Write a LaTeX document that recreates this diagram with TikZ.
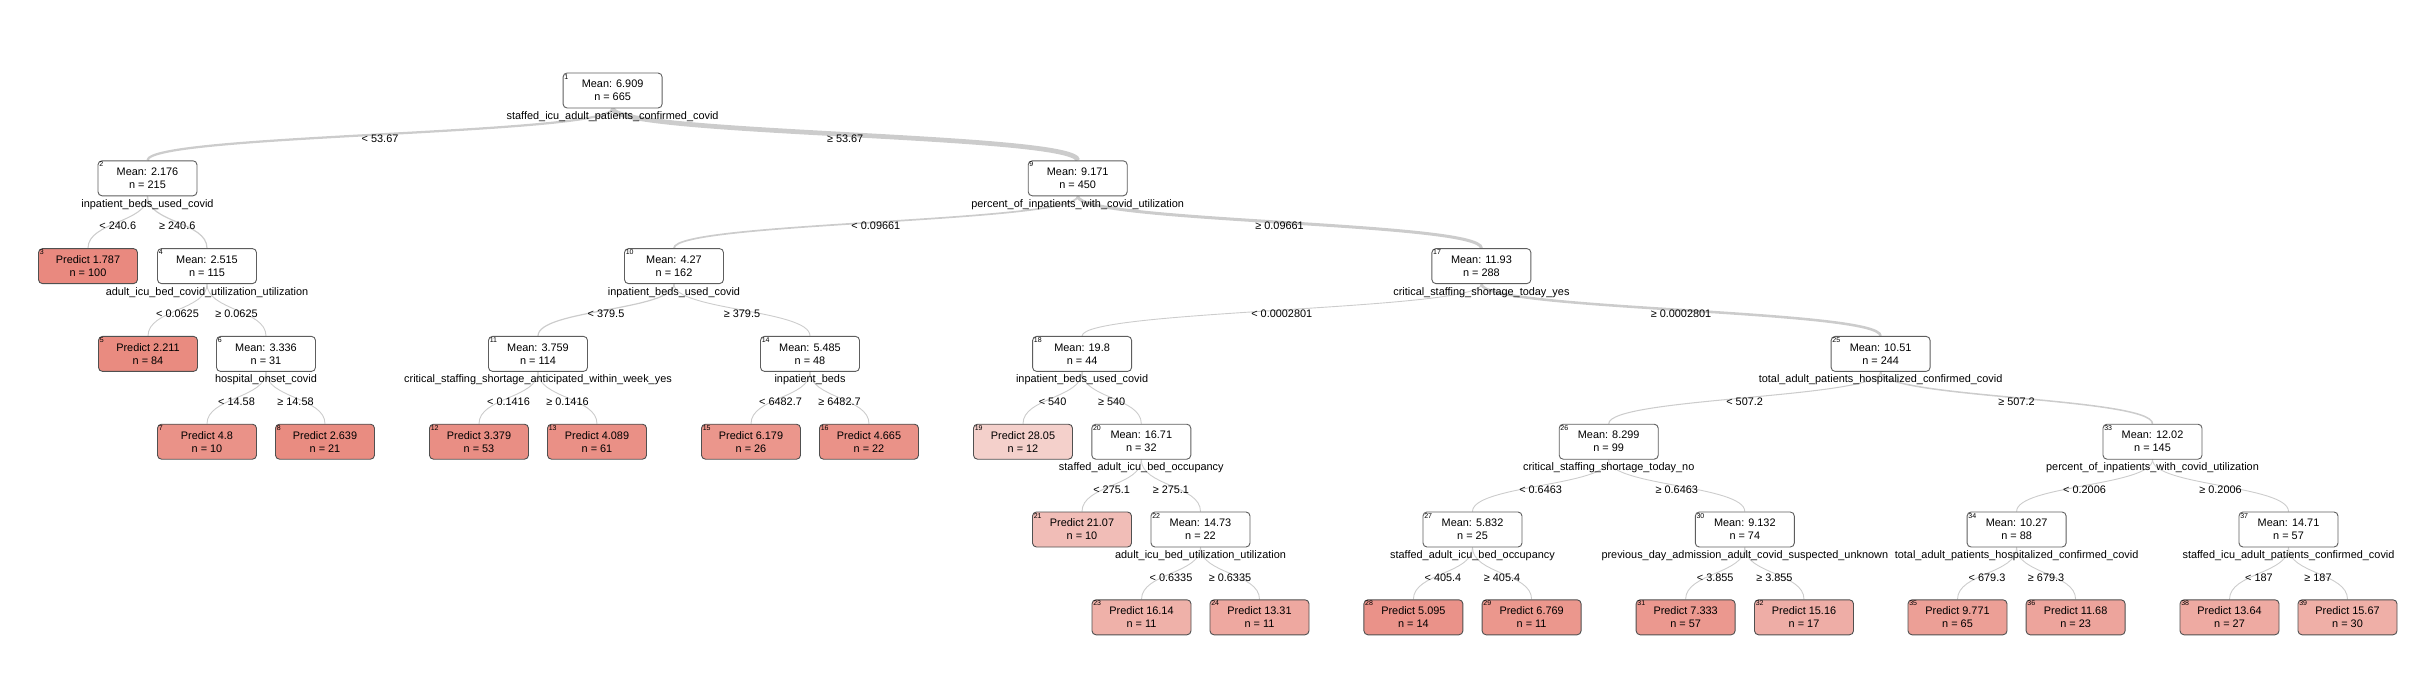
\documentclass[tikz,border=0pt]{standalone}
\usepackage{fontspec}
\setmainfont{Liberation Sans}
\usepackage{xcolor}
\usepackage{tikz}
\usetikzlibrary{positioning, backgrounds}
\definecolor{edgeGray}{HTML}{CCCCCC}
\definecolor{boxGray}{HTML}{5E5E5E}
\definecolor{leafLow}{HTML}{E8857A}
\definecolor{leafHigh}{HTML}{F4D0CB}
\newcommand{\treefont}{\fontsize{10.9}{13}\selectfont}

% inner node: id, x, y, mean, n, split variable
\newcommand{\splitnode}[6]{%
    \node[inbox] (n#1) at (#2,#3) {Mean: #4\\n = #5};
    \node[idlab] (id#1) at ([shift={(1.5,1.5)}]n#1.north west) {#1};
    \node[varlab, below=2pt of n#1] (v#1) {#6};
}
% leaf node: id, x, y, prediction, n, shade
\newcommand{\leafnode}[6]{%
    \node[leafbox, fill=leafHigh!#6!leafLow] (n#1) at (#2,#3) {Predict #4\\n = #5};
    \node[idlab] (id#1) at ([shift={(1.5,1.5)}]n#1.north west) {#1};
}
% link: parent, child, n, split text
\newcommand{\treelink}[4]{%
    \draw[branchline=#3] (n#1.south) .. controls +(0,26.4) and +(0,-26.4) .. (n#2.north)
        node[pos=0.5, cutlab] (c#2) {#4};
}

\begin{document}
\begin{tikzpicture}[x=1pt, y=-1pt,
    inbox/.style={draw=boxGray, fill=white, rounded corners=4pt, line width=0.9pt,
        minimum width=99pt, minimum height=35pt, inner sep=0pt, align=center, font=\treefont},
    leafbox/.style={inbox, draw=boxGray!85!black},
    idlab/.style={anchor=north west, inner sep=0pt, font=\fontsize{7}{8}\selectfont},
    varlab/.style={inner sep=1pt, font=\treefont},
    cutlab/.style={inner sep=1pt, yshift=-4pt, font=\treefont},
    branchline/.style={draw=edgeGray, line width={max(0.9,#1/95)*1pt}}]
    \useasboundingbox (0,0) rectangle (2430,674);

    % nodes
    \splitnode{1}{612.6}{90.5}{6.909}{665}{staffed\_icu\_adult\_patients\_confirmed\_covid}
    \splitnode{2}{147.5}{178.3}{2.176}{215}{inpatient\_beds\_used\_covid}
    \leafnode{3}{88}{266.1}{1.787}{100}{6}
    \splitnode{4}{207}{266.1}{2.515}{115}{adult\_icu\_bed\_covid\_utilization\_utilization}
    \leafnode{5}{148}{353.9}{2.211}{84}{8}
    \splitnode{6}{266}{353.9}{3.336}{31}{hospital\_onset\_covid}
    \leafnode{7}{207}{441.7}{4.8}{10}{17}
    \leafnode{8}{325}{441.7}{2.639}{21}{9}
    \splitnode{9}{1077.7}{178.3}{9.171}{450}{percent\_of\_inpatients\_with\_covid\_utilization}
    \splitnode{10}{674}{266.1}{4.27}{162}{inpatient\_beds\_used\_covid}
    \splitnode{11}{538}{353.9}{3.759}{114}{critical\_staffing\_shortage\_anticipated\_within\_week\_yes}
    \leafnode{12}{479}{441.7}{3.379}{53}{12}
    \leafnode{13}{597}{441.7}{4.089}{61}{15}
    \splitnode{14}{810}{353.9}{5.485}{48}{inpatient\_beds}
    \leafnode{15}{751}{441.7}{6.179}{26}{22}
    \leafnode{16}{869}{441.7}{4.665}{22}{17}
    \splitnode{17}{1481.4}{266.1}{11.93}{288}{critical\_staffing\_shortage\_today\_yes}
    \splitnode{18}{1082.1}{353.9}{19.8}{44}{inpatient\_beds\_used\_covid}
    \leafnode{19}{1023}{441.7}{28.05}{12}{100}
    \splitnode{20}{1141.3}{441.7}{16.71}{32}{staffed\_adult\_icu\_bed\_occupancy}
    \leafnode{21}{1082}{529.5}{21.07}{10}{75}
    \splitnode{22}{1200.5}{529.5}{14.73}{22}{adult\_icu\_bed\_utilization\_utilization}
    \leafnode{23}{1141.5}{617.3}{16.14}{11}{58}
    \leafnode{24}{1259.5}{617.3}{13.31}{11}{47}
    \splitnode{25}{1880.6}{353.9}{10.51}{244}{total\_adult\_patients\_hospitalized\_confirmed\_covid}
    \splitnode{26}{1608.7}{441.7}{8.299}{99}{critical\_staffing\_shortage\_today\_no}
    \splitnode{27}{1472.5}{529.5}{5.832}{25}{staffed\_adult\_icu\_bed\_occupancy}
    \leafnode{28}{1413.4}{617.3}{5.095}{14}{18}
    \leafnode{29}{1531.6}{617.3}{6.769}{11}{24}
    \splitnode{30}{1744.8}{529.5}{9.132}{74}{previous\_day\_admission\_adult\_covid\_suspected\_unknown}
    \leafnode{31}{1685.6}{617.3}{7.333}{57}{26}
    \leafnode{32}{1804}{617.3}{15.16}{17}{54}
    \splitnode{33}{2152.5}{441.7}{12.02}{145}{percent\_of\_inpatients\_with\_covid\_utilization}
    \splitnode{34}{2016.6}{529.5}{10.27}{88}{total\_adult\_patients\_hospitalized\_confirmed\_covid}
    \leafnode{35}{1957.5}{617.3}{9.771}{65}{35}
    \leafnode{36}{2075.6}{617.3}{11.68}{23}{42}
    \splitnode{37}{2288.5}{529.5}{14.71}{57}{staffed\_icu\_adult\_patients\_confirmed\_covid}
    \leafnode{38}{2229.5}{617.3}{13.64}{27}{49}
    \leafnode{39}{2347.5}{617.3}{15.67}{30}{56}

    % links
    \begin{scope}[on background layer]
    \treelink{1}{2}{215}{< 53.67}
    \treelink{1}{9}{450}{≥ 53.67}
    \treelink{2}{3}{100}{< 240.6}
    \treelink{2}{4}{115}{≥ 240.6}
    \treelink{4}{5}{84}{< 0.0625}
    \treelink{4}{6}{31}{≥ 0.0625}
    \treelink{6}{7}{10}{< 14.58}
    \treelink{6}{8}{21}{≥ 14.58}
    \treelink{9}{10}{162}{< 0.09661}
    \treelink{9}{17}{288}{≥ 0.09661}
    \treelink{10}{11}{114}{< 379.5}
    \treelink{10}{14}{48}{≥ 379.5}
    \treelink{11}{12}{53}{< 0.1416}
    \treelink{11}{13}{61}{≥ 0.1416}
    \treelink{14}{15}{26}{< 6482.7}
    \treelink{14}{16}{22}{≥ 6482.7}
    \treelink{17}{18}{44}{< 0.0002801}
    \treelink{17}{25}{244}{≥ 0.0002801}
    \treelink{18}{19}{12}{< 540}
    \treelink{18}{20}{32}{≥ 540}
    \treelink{20}{21}{10}{< 275.1}
    \treelink{20}{22}{22}{≥ 275.1}
    \treelink{22}{23}{11}{< 0.6335}
    \treelink{22}{24}{11}{≥ 0.6335}
    \treelink{25}{26}{99}{< 507.2}
    \treelink{25}{33}{145}{≥ 507.2}
    \treelink{26}{27}{25}{< 0.6463}
    \treelink{26}{30}{74}{≥ 0.6463}
    \treelink{27}{28}{14}{< 405.4}
    \treelink{27}{29}{11}{≥ 405.4}
    \treelink{30}{31}{57}{< 3.855}
    \treelink{30}{32}{17}{≥ 3.855}
    \treelink{33}{34}{88}{< 0.2006}
    \treelink{33}{37}{57}{≥ 0.2006}
    \treelink{34}{35}{65}{< 679.3}
    \treelink{34}{36}{23}{≥ 679.3}
    \treelink{37}{38}{27}{< 187}
    \treelink{37}{39}{30}{≥ 187}
    \end{scope}
\end{tikzpicture}
\end{document}
